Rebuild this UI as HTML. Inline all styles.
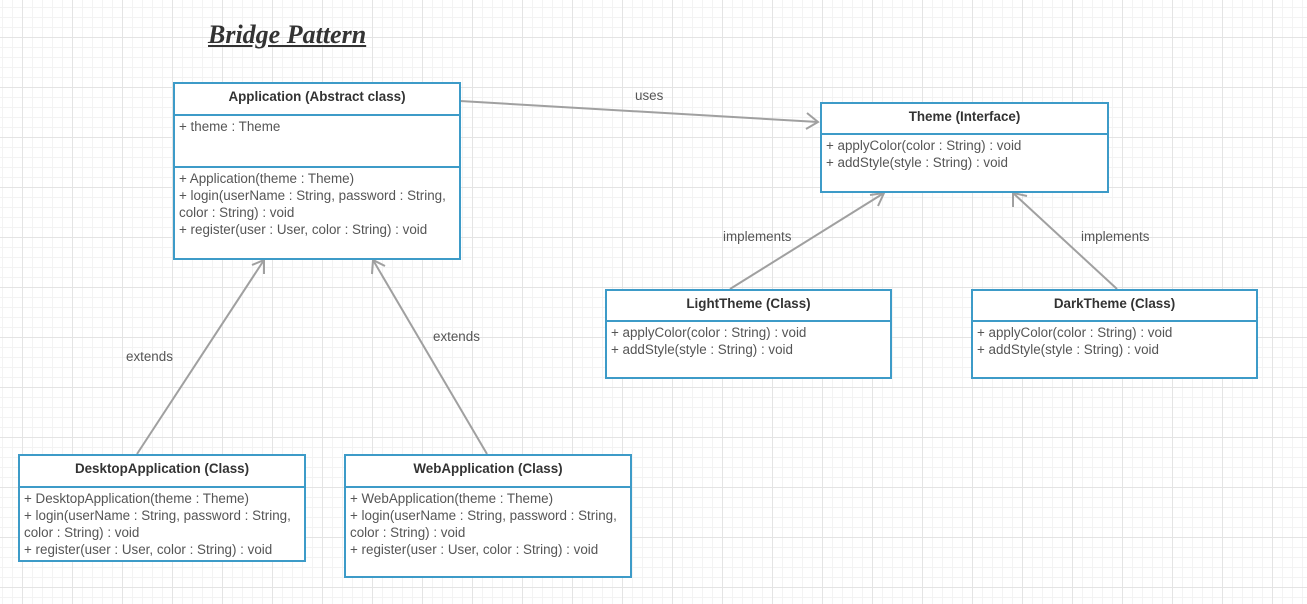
<!DOCTYPE html>
<html><head><style>
body{margin:0;width:1307px;height:604px;overflow:hidden;background:#fff;
background-image:linear-gradient(#e4e4e4 1px,transparent 1px),linear-gradient(90deg,#e4e4e4 1px,transparent 1px),linear-gradient(#f3f3f3 1px,transparent 1px),linear-gradient(90deg,#f3f3f3 1px,transparent 1px);
background-size:50px 50px,50px 50px,10px 10px,10px 10px;background-position:0 37px,22px 0,0 7px,2px 0;
font-family:"Liberation Sans",sans-serif;position:relative}
.b{position:absolute;border:2px solid #3d9bc8;background:#fff;box-sizing:border-box;color:#555;font-size:13.4px}
.h{font-weight:bold;text-align:center;border-bottom:2px solid #3d9bc8;box-sizing:border-box;padding-top:5px;color:#333}
.s{padding:2px 4px;line-height:17px;box-sizing:border-box;white-space:nowrap}
.lbl{position:absolute;font-size:13.4px;color:#555}
</style></head><body>
<div style="position:absolute;left:208px;top:20px;font-family:'Liberation Serif',serif;font-weight:bold;font-style:italic;font-size:26px;color:#333;text-decoration:underline">Bridge Pattern</div>
<svg width="1307" height="604" style="position:absolute;left:0;top:0">
<g stroke="#a0a0a0" stroke-width="2" fill="none">
<line x1="460" y1="101" x2="818" y2="122"/><polyline points="807,113 818,122 806,129"/>
<line x1="730" y1="289" x2="884" y2="193"/><polyline points="870,195 884,193 878,206"/>
<line x1="1117" y1="289" x2="1013" y2="193"/><polyline points="1013,207 1013,193 1027,196"/>
<line x1="137" y1="454" x2="264" y2="260"/><polyline points="252,265 264,260 264,274"/>
<line x1="487" y1="454" x2="373" y2="260"/><polyline points="372,274 373,260 385,266"/>
</g></svg>
<div class="lbl" style="left:635px;top:88px">uses</div>
<div class="lbl" style="left:723px;top:229px">implements</div>
<div class="lbl" style="left:1081px;top:229px">implements</div>
<div class="lbl" style="left:126px;top:349px">extends</div>
<div class="lbl" style="left:433px;top:329px">extends</div>

<div class="b" style="left:173px;top:82px;width:288px;height:178px">
<div class="h" style="height:32px">Application (Abstract class)</div>
<div class="s" style="height:52px;border-bottom:2px solid #3d9bc8">+ theme : Theme</div>
<div class="s">+ Application(theme : Theme)<br>+ login(userName : String, password : String,<br>color : String) : void<br>+ register(user : User, color : String) : void</div>
</div>
<div class="b" style="left:820px;top:102px;width:289px;height:91px">
<div class="h" style="height:31px">Theme (Interface)</div>
<div class="s">+ applyColor(color : String) : void<br>+ addStyle(style : String) : void</div>
</div>
<div class="b" style="left:605px;top:289px;width:287px;height:90px">
<div class="h" style="height:31px">LightTheme (Class)</div>
<div class="s">+ applyColor(color : String) : void<br>+ addStyle(style : String) : void</div>
</div>
<div class="b" style="left:971px;top:289px;width:287px;height:90px">
<div class="h" style="height:31px">DarkTheme (Class)</div>
<div class="s">+ applyColor(color : String) : void<br>+ addStyle(style : String) : void</div>
</div>
<div class="b" style="left:18px;top:454px;width:288px;height:108px">
<div class="h" style="height:32px">DesktopApplication (Class)</div>
<div class="s">+ DesktopApplication(theme : Theme)<br>+ login(userName : String, password : String,<br>color : String) : void<br>+ register(user : User, color : String) : void</div>
</div>
<div class="b" style="left:344px;top:454px;width:288px;height:124px">
<div class="h" style="height:32px">WebApplication (Class)</div>
<div class="s">+ WebApplication(theme : Theme)<br>+ login(userName : String, password : String,<br>color : String) : void<br>+ register(user : User, color : String) : void</div>
</div>
</body></html>
